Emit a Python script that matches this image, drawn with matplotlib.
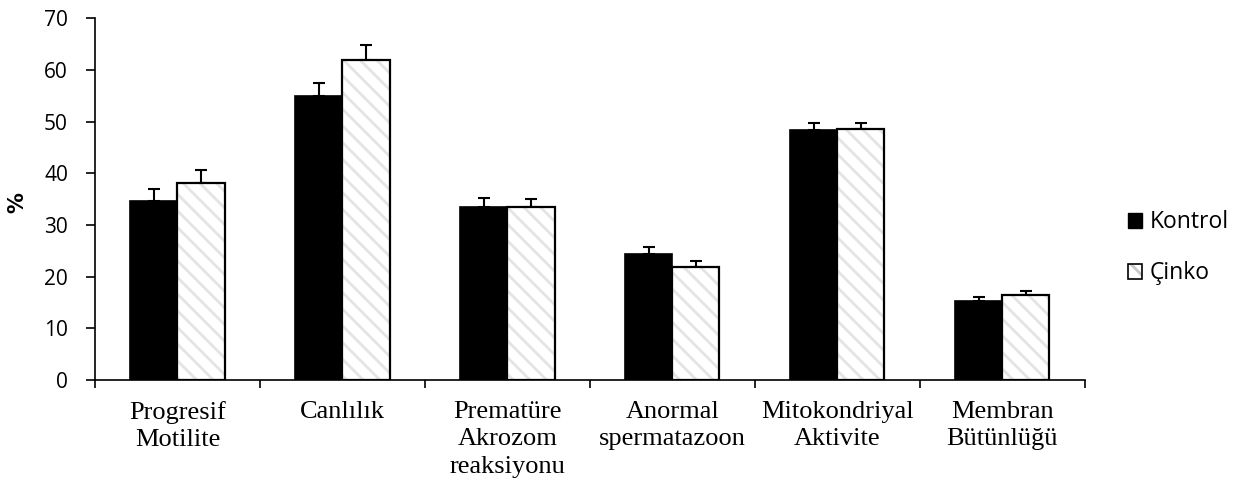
import matplotlib
matplotlib.use('Agg')
import matplotlib.pyplot as plt
import numpy as np
from matplotlib.patches import Patch
from matplotlib.legend_handler import HandlerTuple

# data
categories = ['Progresif\nMotilite', 'Canlılık', 'Prematüre\nAkrozom\nreaksiyonu',
              'Anormal\nspermatazoon', 'Mitokondriyal\nAktivite', 'Membran\nBütünlüğü']
kontrol = [34.6, 55.0, 33.5, 24.4, 48.4, 15.3]
kontrol_err = [2.3, 2.4, 1.7, 1.3, 1.3, 0.8]
cinko = [38.1, 61.9, 33.4, 21.9, 48.5, 16.4]
cinko_err = [2.5, 2.9, 1.6, 1.2, 1.3, 0.8]

plt.rcParams['hatch.linewidth'] = 2.0
HATCH_GREY = '#e4e4e4'

fig = plt.figure(figsize=(12.55, 4.9), dpi=100)
ax = fig.add_axes([0.0757, 0.2245, 0.7888, 0.7385])

x = np.arange(len(categories))
w = 0.285

# Kontrol bars
ax.bar(x - w / 2, kontrol, w, color='black', edgecolor='black', linewidth=1.2, zorder=2)
ax.errorbar(x - w / 2, kontrol, yerr=[np.zeros(len(kontrol)), kontrol_err],
            fmt='none', ecolor='black', elinewidth=1.5, capsize=4.5, capthick=1.5, zorder=1)

# Cinko bars: hatch in light grey, then black outline on top
ax.bar(x + w / 2, cinko, w, color='white', edgecolor=HATCH_GREY, hatch='\\\\',
       linewidth=0, zorder=2)
ax.bar(x + w / 2, cinko, w, fill=False, edgecolor='black', linewidth=1.6, zorder=3)
ax.errorbar(x + w / 2, cinko, yerr=[np.zeros(len(cinko)), cinko_err],
            fmt='none', ecolor='black', elinewidth=1.5, capsize=4.5, capthick=1.5, zorder=1)

ax.set_xlim(-0.5, len(categories) - 0.5)
ax.set_ylim(0, 70)
yticks = list(range(0, 71, 10))
ax.set_yticks(yticks)
ax.set_yticklabels([str(t) for t in yticks], family='Open Sans', fontsize=15)
ax.yaxis.set_tick_params(length=6.5, width=1.2, direction='out', pad=13)

ax.set_xticks(np.arange(len(categories) + 1) - 0.5)
ax.set_xticklabels([])
ax.tick_params(axis='x', which='major', length=6, width=1.2, direction='out')
ax.set_xticks(x, minor=True)
ax.set_xticklabels(categories, minor=True, family='Liberation Serif', fontsize=19,
                   linespacing=1.33, va='top')
ax.tick_params(axis='x', which='minor', length=0, pad=15)

for side in ['top', 'right']:
    ax.spines[side].set_visible(False)
for side in ['left', 'bottom']:
    ax.spines[side].set_linewidth(1.2)

ax.set_ylabel('%', fontsize=15, fontweight='bold')
ax.yaxis.set_label_coords(-0.068, 0.49)

h_kontrol = Patch(facecolor='black', edgecolor='black')
h_cinko = (Patch(facecolor='white', edgecolor='#c8c8c8', hatch='\\', linewidth=0),
           Patch(fill=False, edgecolor='black', linewidth=1.2))
fig.legend([h_kontrol, h_cinko], ['Kontrol', 'Çinko'],
           handler_map={tuple: HandlerTuple(ndivide=1, pad=0)},
           loc='center left', bbox_to_anchor=(0.882, 0.494),
           frameon=False, prop={'family': 'Open Sans', 'size': 16.5},
           handlelength=0.65, handleheight=0.65, handletextpad=0.3, labelspacing=1.18)

fig.savefig('out.png', dpi=100)
